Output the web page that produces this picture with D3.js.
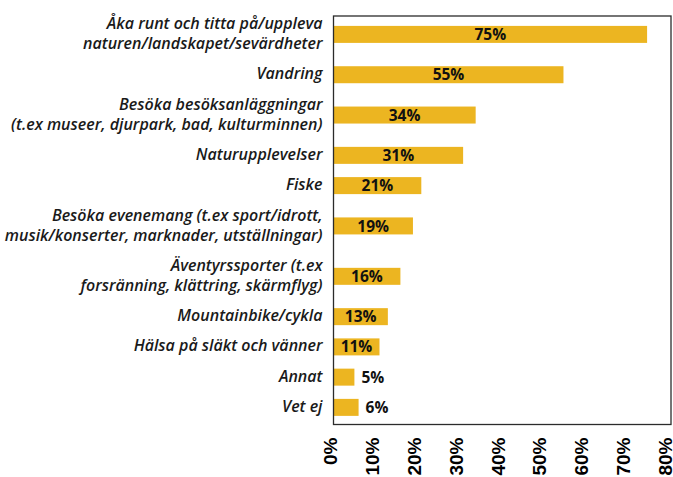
<!DOCTYPE html>
<html>
<head>
<meta charset="utf-8">
<script src="https://cdn.jsdelivr.net/npm/d3@7"></script>
<style>
  html, body { margin: 0; padding: 0; background: #fff; }
  svg { display: block; }
</style>
</head>
<body>
<svg id="chart" width="673" height="477"></svg>
<script>
// Activities (each entry lists its label lines) and the share answering each one (%)
const categories = [
  ["Åka runt och titta på/uppleva", "naturen/landskapet/sevärdheter"],
  ["Vandring"],
  ["Besöka besöksanläggningar", "(t.ex museer, djurpark, bad, kulturminnen)"],
  ["Naturupplevelser"],
  ["Fiske"],
  ["Besöka evenemang (t.ex sport/idrott,", "musik/konserter, marknader, utställningar)"],
  ["Äventyrssporter (t.ex", "forsränning, klättring, skärmflyg)"],
  ["Mountainbike/cykla"],
  ["Hälsa på släkt och vänner"],
  ["Annat"],
  ["Vet ej"]
];
const values = [75, 55, 34, 31, 21, 19, 16, 13, 11, 5, 6];
const tickValues = [0, 10, 20, 30, 40, 50, 60, 70, 80];

const frame = { left: 333.5, right: 671, top: 16, bottom: 424.5 };
const barColor = "#ECB521";
const labelFont = "'Open Sans', 'Noto Sans', sans-serif";

const svg = d3.select("#chart");

// Rows get room according to how many label lines they carry
const rowUnits = categories.map(c => c.length + 0.5);
const rowStart = d3.cumsum([0, ...rowUnits]).slice(0, categories.length);
const totalUnits = d3.sum(rowUnits);

const y = d3.scaleLinear().domain([0, totalUnits]).range([9.2, 422.5]);
const rowCenter = i => y(rowStart[i] + rowUnits[i] / 2);

const x = d3.scaleLinear().domain([0, 80]).range([frame.left, 668]);

const barH = 17;

const rows = categories.map((lines, i) => ({ lines, value: values[i], i }));

// Bars
svg.append("g")
  .selectAll("rect")
  .data(rows)
  .join("rect")
  .attr("x", x(0))
  .attr("y", d => rowCenter(d.i) - barH / 2)
  .attr("width", d => x(d.value) - x(0))
  .attr("height", barH)
  .attr("fill", barColor);

// Frame around the plot
svg.append("rect")
  .attr("x", frame.left)
  .attr("y", frame.top)
  .attr("width", frame.right - frame.left)
  .attr("height", frame.bottom - frame.top)
  .attr("fill", "none")
  .attr("stroke", "#2b2b2b")
  .attr("stroke-width", 1.3);

// Category labels, right aligned to the left of the plot
const lineGap = 20;
const catG = svg.append("g");
rows.forEach(d => {
  const n = d.lines.length;
  const t = catG.append("text")
    .attr("text-anchor", "end")
    .attr("font-family", labelFont)
    .attr("font-style", "italic")
    .attr("font-weight", 600)
    .attr("font-size", 16)
    .attr("fill", "#1a1a1a");
  d.lines.forEach((line, k) => {
    t.append("tspan")
      .attr("x", 322.5)
      .attr("y", rowCenter(d.i) - 1 + (k - (n - 1) / 2) * lineGap)
      .attr("dy", "0.35em")
      .text(line);
  });
});

// Value labels: centred in the bar, or just past its end when the bar is too short
const valG = svg.append("g");
rows.forEach(d => {
  const t = valG.append("text")
    .attr("font-family", labelFont)
    .attr("font-weight", 700)
    .attr("font-size", 15.5)
    .attr("fill", "#111")
    .attr("y", rowCenter(d.i))
    .attr("dy", "0.36em")
    .text(d.value + "%");
  const tw = t.node().getComputedTextLength();
  const bw = x(d.value) - x(0);
  if (tw + 6 < bw) {
    t.attr("x", x(0) + bw / 2).attr("text-anchor", "middle");
  } else {
    t.attr("x", x(d.value) + 7).attr("text-anchor", "start");
  }
});

// Rotated percentage ticks under the plot
svg.append("g")
  .selectAll("text")
  .data(tickValues)
  .join("text")
  .attr("transform", v => `translate(${x(v) - 3},437.5) rotate(-90)`)
  .attr("text-anchor", "end")
  .attr("dy", "0.36em")
  .attr("font-family", "'Liberation Sans', Arial, sans-serif")
  .attr("font-weight", 700)
  .attr("font-size", 19)
  .attr("fill", "#000")
  .text(v => v + "%");
</script>
</body>
</html>
